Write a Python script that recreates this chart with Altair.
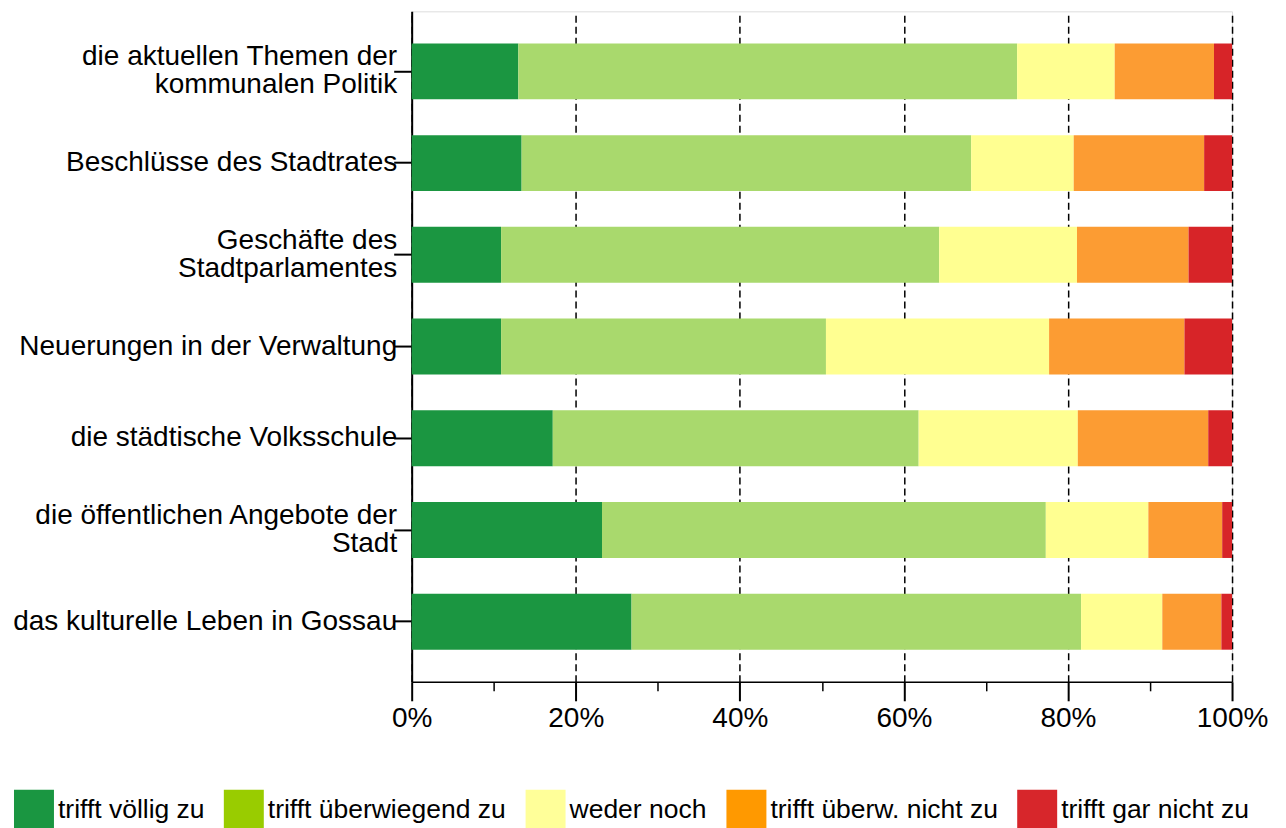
import altair as alt
import pandas as pd

categories = [
    "die aktuellen Themen der\nkommunalen Politik",
    "Beschlüsse des Stadtrates",
    "Geschäfte des\nStadtparlamentes",
    "Neuerungen in der Verwaltung",
    "die städtische Volksschule",
    "die öffentlichen Angebote der\nStadt",
    "das kulturelle Leben in Gossau",
]
responses = [
    "trifft völlig zu",
    "trifft überwiegend zu",
    "weder noch",
    "trifft überw. nicht zu",
    "trifft gar nicht zu",
]
voellig = [13.0, 13.4, 10.9, 10.9, 17.2, 23.2, 26.8]
ueberwiegend = [60.8, 54.8, 53.4, 39.6, 44.6, 54.1, 54.8]
weder = [11.9, 12.5, 16.8, 27.2, 19.4, 12.5, 9.9]
ueberw_nicht = [12.1, 15.9, 13.6, 16.5, 15.9, 9.0, 7.2]
gar_nicht = [2.2, 3.4, 5.3, 5.8, 2.9, 1.2, 1.3]

bar_colors = ["#1b9641", "#a9d96d", "#ffff91", "#fc9c33", "#d72428"]
legend_colors = ["#1a9641", "#99cc00", "#ffff99", "#ff9900", "#d7262b"]
major_ticks = [0, 20, 40, 60, 80, 100]
minor_ticks = [10, 30, 50, 70, 90]

series = [voellig, ueberwiegend, weder, ueberw_nicht, gar_nicht]
rows = []
for k, (resp, vals) in enumerate(zip(responses, series)):
    for cat, v in zip(categories, vals):
        rows.append({"Frage": cat, "Antwort": resp, "Anteil": v, "idx": k})
df = pd.DataFrame(rows)

FONT = "Liberation Sans"
xscale = alt.Scale(domain=[0, 100], nice=False, zero=True)

bars = alt.Chart(df).mark_bar().encode(
    y=alt.Y(
        "Frage:N",
        sort=categories,
        scale=alt.Scale(domain=categories, paddingInner=0.39, paddingOuter=0.35),
        axis=alt.Axis(
            title=None,
            labelExpr="split(datum.label, '\\n')",
            labelFontSize=28,
            labelFont=FONT,
            labelColor="black",
            labelLineHeight=28,
            labelLimit=0,
            labelPadding=-3,
            labelOffset={
                "condition": {"test": "indexof(datum.value, '\\n') >= 0", "value": -14},
                "value": 0,
            },
            tickSize=18,
            tickWidth=2,
            tickColor="black",
            domainColor="black",
            domainWidth=2,
            grid=False,
        ),
    ),
    x=alt.X(
        "Anteil:Q",
        stack="zero",
        scale=xscale,
        axis=alt.Axis(
            orient="bottom",
            title=None,
            values=major_ticks,
            labelExpr="datum.value + '%'",
            labelFontSize=28,
            labelFont=FONT,
            labelColor="black",
            labelFlush=False,
            labelPadding=4,
            tickSize=19,
            tickWidth=2,
            tickColor="black",
            domainColor="black",
            domainWidth=1.5,
            grid=True,
            gridColor="black",
            gridDash=[7, 4],
            gridWidth=1.5,
        ),
    ),
    color=alt.Color(
        "Antwort:N",
        scale=alt.Scale(domain=responses, range=bar_colors),
        legend=None,
    ),
    order=alt.Order("idx:Q"),
)

minor = alt.Chart(pd.DataFrame({"t": minor_ticks})).mark_rule(opacity=0).encode(
    x=alt.X(
        "t:Q",
        scale=xscale,
        axis=alt.Axis(
            orient="bottom",
            title=None,
            values=minor_ticks,
            labels=False,
            domain=False,
            grid=False,
            tickSize=9,
            tickWidth=1.5,
            tickColor="black",
        ),
    )
)

legend_layer = alt.Chart(pd.DataFrame({"Legende": responses})).mark_square(size=0).encode(
    x=alt.value(0),
    y=alt.value(0),
    color=alt.Color(
        "Legende:N",
        sort=responses,
        scale=alt.Scale(domain=responses, range=legend_colors),
        legend=alt.Legend(
            title=None,
            orient="none",
            legendX=-398,
            legendY=779,
            direction="horizontal",
            symbolType="square",
            symbolSize=1600,
            symbolStrokeWidth=0,
            symbolOpacity=1,
            labelFontSize=26.5,
            labelFont=FONT,
            labelColor="black",
            labelOffset=4,
            labelLimit=0,
            columnPadding=19,
            padding=0,
        ),
    ),
)

chart = (
    alt.layer(bars, minor, legend_layer)
    .resolve_scale(color="independent")
    .resolve_axis(x="independent")
    .properties(
        width=821,
        height=671,
        autosize=alt.AutoSizeParams(type="none"),
        padding={"left": 404, "top": 3, "right": 46, "bottom": 150},
    )
    .configure_view(stroke="#9a9a9a", strokeWidth=1.5)
    .configure(font=FONT)
)

chart.save("out.html", embed_options={"renderer": "svg", "actions": False})
